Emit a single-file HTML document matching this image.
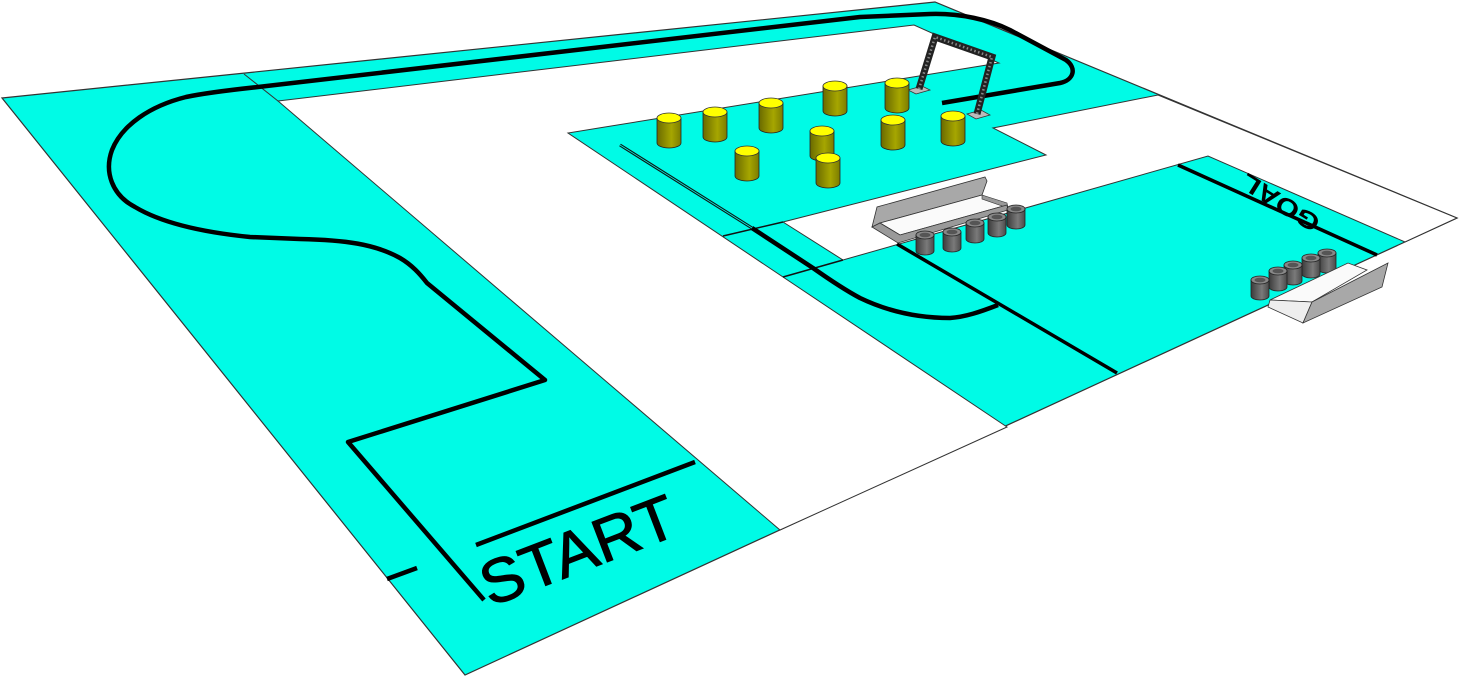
<!DOCTYPE html>
<html><head><meta charset="utf-8"><style>
html,body{margin:0;padding:0;background:#fff;width:1459px;height:678px;overflow:hidden}
svg{display:block}
</style></head><body>
<svg width="1459" height="678" viewBox="0 0 1459 678" xmlns="http://www.w3.org/2000/svg">
<defs>
<linearGradient id="yb" x1="0" x2="1" y1="0" y2="0"><stop offset="0" stop-color="#6a6a00"/><stop offset="0.6" stop-color="#a6a600"/><stop offset="1" stop-color="#7c7c00"/></linearGradient>
<linearGradient id="gb" x1="0" x2="1" y1="0" y2="0"><stop offset="0" stop-color="#3c3c3c"/><stop offset="0.6" stop-color="#7a7a7a"/><stop offset="1" stop-color="#4a4a4a"/></linearGradient>
<g id="ycyl"><path d="M-12,0 L-12,25 A12,5 0 0 0 12,25 L12,0 Z" fill="url(#yb)" stroke="#222" stroke-width="0.8"/><ellipse cx="0" cy="0" rx="12" ry="5" fill="#ffff00" stroke="#333" stroke-width="0.8"/></g>
<g id="gcan"><path d="M-9,0 L-9,16 A9,4 0 0 0 9,16 L9,0 Z" fill="url(#gb)" stroke="#222" stroke-width="0.8"/><ellipse cx="0" cy="0" rx="9" ry="4" fill="#888" stroke="#222" stroke-width="0.8"/><ellipse cx="0" cy="0" rx="5.5" ry="2.3" fill="#555"/></g>
</defs>
<polygon points="2,98 935,2 1457,218 465,675" fill="#00fbe6" stroke="#333" stroke-width="1.2"/>
<polygon points="278,101 914,25 999,63 568,133 1007,427 780,530" fill="#fff" stroke="#333" stroke-width="1"/>
<polygon points="783,222 1046,155 993,128 1158,95 1457,218 1405,242 1208,156 843,260" fill="#fff" stroke="#333" stroke-width="1"/>
<line x1="244" y1="74" x2="278" y2="101" stroke="#333" stroke-width="1"/>
<line x1="723" y1="236" x2="783" y2="222" stroke="#111" stroke-width="1.5"/>
<line x1="783" y1="277" x2="843" y2="260" stroke="#111" stroke-width="1.5"/>
<g fill="none" stroke="#000" stroke-width="4.5" stroke-linejoin="round" stroke-linecap="butt">
<path d="M942,103 L1060,83 C1074,80 1077,68 1066,60 L1010,30 C990,20 960,13 930,14 L860,17 L258,87 C230,90 205,93 186,97 C150,106 122,125 112,150 C104,172 112,195 135,207 C160,222 200,232 250,237 L300,239 C345,240 375,244 400,258 C412,265 420,274 427,283 L545,380 L348,442 L484,600"/>
<path d="M387,579 L417,568"/>
<path d="M476,545 L695,462"/>
<path d="M752,228 L813,268 C830,280 845,290 860,298 C885,310 915,318 950,318 C965,317 980,312 998,305"/>
<path d="M897,244 L1117,373" stroke-width="3.5"/>
<path d="M1178,165 L1377,255" stroke-width="3.5"/>
</g>
<path d="M620,145 L752,228" stroke="#111" stroke-width="3" fill="none"/>
<path d="M620,145 L752,228" stroke="#00fbe6" stroke-width="0.8" fill="none"/>
<text x="0" y="0" transform="translate(490,607) rotate(-21)" font-family="Liberation Sans, sans-serif" font-size="62" fill="#000" stroke="#000" stroke-width="1" textLength="205" lengthAdjust="spacingAndGlyphs">START</text>
<text x="0" y="0" transform="translate(1322,219) rotate(212) scale(1,0.8)" font-family="Liberation Sans, sans-serif" font-weight="bold" font-size="30" fill="#000" textLength="88" lengthAdjust="spacingAndGlyphs">GOAL</text>
<g>
<polygon points="908,90 922,86 930,90 916,94" fill="#bbb" stroke="#333" stroke-width="0.8"/>
<polygon points="967,114 981,110 990,115 976,119" fill="#bbb" stroke="#333" stroke-width="0.8"/>
<path d="M919,89 L935,37 L992,57 L977,114" fill="none" stroke="#222" stroke-width="7"/>
<path d="M919,89 L935,37 L992,57 L977,114" fill="none" stroke="#888" stroke-width="2.5" stroke-dasharray="1.5 2.5"/>
</g>
<use href="#ycyl" x="835" y="86"/>
<use href="#ycyl" x="897" y="83"/>
<use href="#ycyl" x="771" y="103"/>
<use href="#ycyl" x="715" y="112"/>
<use href="#ycyl" x="669" y="118"/>
<use href="#ycyl" x="953" y="116"/>
<use href="#ycyl" x="893" y="120"/>
<use href="#ycyl" x="822" y="131"/>
<use href="#ycyl" x="747" y="151"/>
<use href="#ycyl" x="828" y="158"/>
<polygon points="872,227 877,207 985,177 987,181 982,195 880,223" fill="#a8a8a8" stroke="#333" stroke-width="0.8"/>
<polygon points="880,223 982,195 1007,205 900,235" fill="#fafafa" stroke="#333" stroke-width="0.8"/>
<polygon points="982,195 1007,203 1008,208 982,199" fill="#999" stroke="#333" stroke-width="0.6"/>
<polygon points="872,227 880,223 900,235 1007,205 1008,210 898,243" fill="#9a9a9a" stroke="#333" stroke-width="0.8"/>
<use href="#gcan" x="1016" y="209"/>
<use href="#gcan" x="997" y="217"/>
<use href="#gcan" x="975" y="223"/>
<use href="#gcan" x="952" y="232"/>
<use href="#gcan" x="925" y="235"/>
<use href="#gcan" x="1327" y="253"/>
<use href="#gcan" x="1311" y="258"/>
<use href="#gcan" x="1293" y="265"/>
<use href="#gcan" x="1278" y="271"/>
<use href="#gcan" x="1260" y="280"/>
<polygon points="1270,300 1348,263 1367,270 1312,302" fill="#fafafa" stroke="#333" stroke-width="0.8"/>
<polygon points="1270,300 1312,302 1303,323 1268,307" fill="#eee" stroke="#333" stroke-width="0.8"/>
<polygon points="1312,302 1388,263 1382,287 1303,323" fill="#a8a8a8" stroke="#333" stroke-width="0.8"/>
</svg>
</body></html>
